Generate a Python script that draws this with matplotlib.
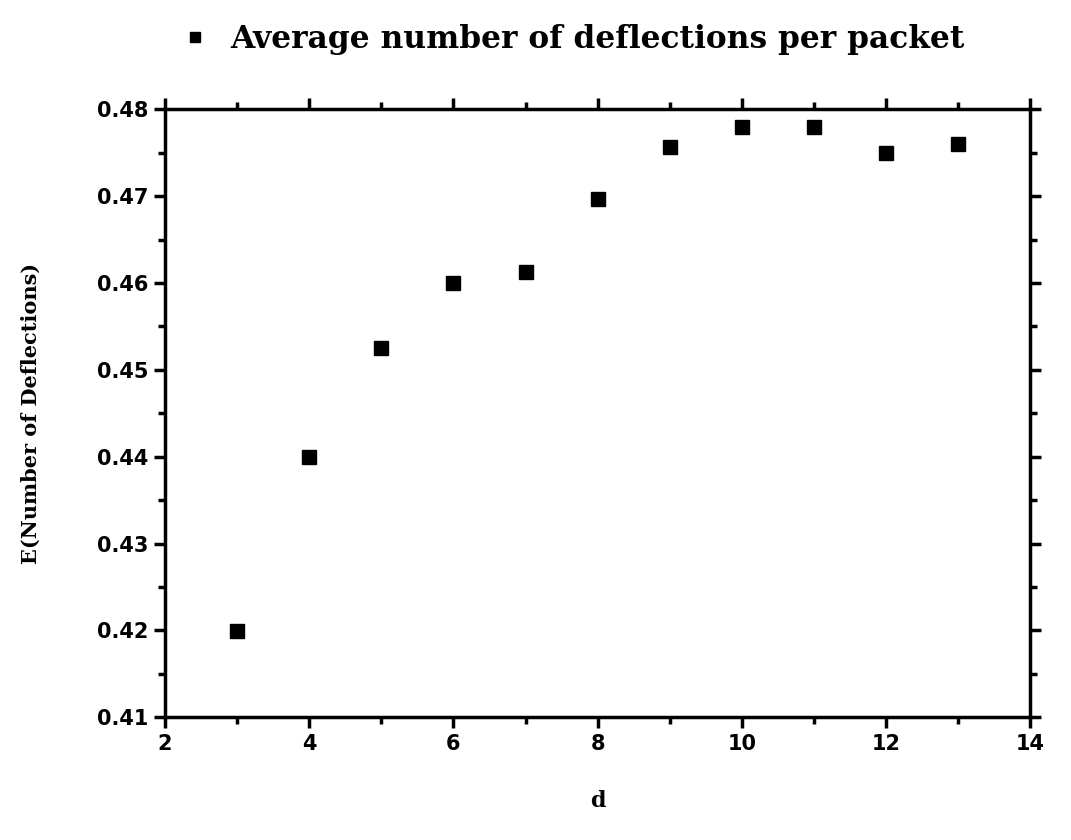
import matplotlib
matplotlib.use("Agg")
import matplotlib.pyplot as plt
from matplotlib.ticker import MultipleLocator
from matplotlib.lines import Line2D

d_values = [3, 4, 5, 6, 7, 8, 9, 10, 11, 12, 13]
deflections = [0.4199, 0.4400, 0.4525, 0.4600, 0.4613, 0.4697, 0.4757, 0.4780, 0.4780, 0.4750, 0.4760]
series_label = "Average number of deflections per packet"

fig = plt.figure(figsize=(10.71, 8.4), dpi=100)
ax = fig.add_axes([0.154, 0.146, 0.808, 0.724])
ax.plot(d_values, deflections, linestyle="none", marker="s", markersize=10, color="black")
ax.set_xlim(2, 14)
ax.set_ylim(0.41, 0.48)
ax.xaxis.set_major_locator(MultipleLocator(2))
ax.xaxis.set_minor_locator(MultipleLocator(1))
ax.yaxis.set_major_locator(MultipleLocator(0.01))
ax.yaxis.set_minor_locator(MultipleLocator(0.005))
ax.yaxis.set_major_formatter(matplotlib.ticker.FormatStrFormatter("%.2f"))
ax.tick_params(which="both", direction="out", top=True, right=True, width=2.5)
ax.tick_params(which="major", length=8, labelsize=15, pad=4)
ax.tick_params(which="minor", length=5)
for lab in ax.get_xticklabels() + ax.get_yticklabels():
    lab.set_fontweight("bold")
for s in ax.spines.values():
    s.set_linewidth(2.5)

ax.set_xlabel("d", fontsize=16, fontweight="bold", family="DejaVu Serif", labelpad=26)
ax.set_ylabel("E(Number of Deflections)", fontsize=15, fontweight="bold", family="DejaVu Serif", labelpad=40)

handle = Line2D([], [], linestyle="none", marker="s", markersize=7, color="black")
fig.legend([handle], [series_label], loc="upper left", bbox_to_anchor=(0.141, 1.005),
           frameon=False, handlelength=1.0, handletextpad=0.65,
           prop={"family": "DejaVu Serif", "weight": "bold", "size": 22.5})

fig.savefig("out.png", dpi=100)
